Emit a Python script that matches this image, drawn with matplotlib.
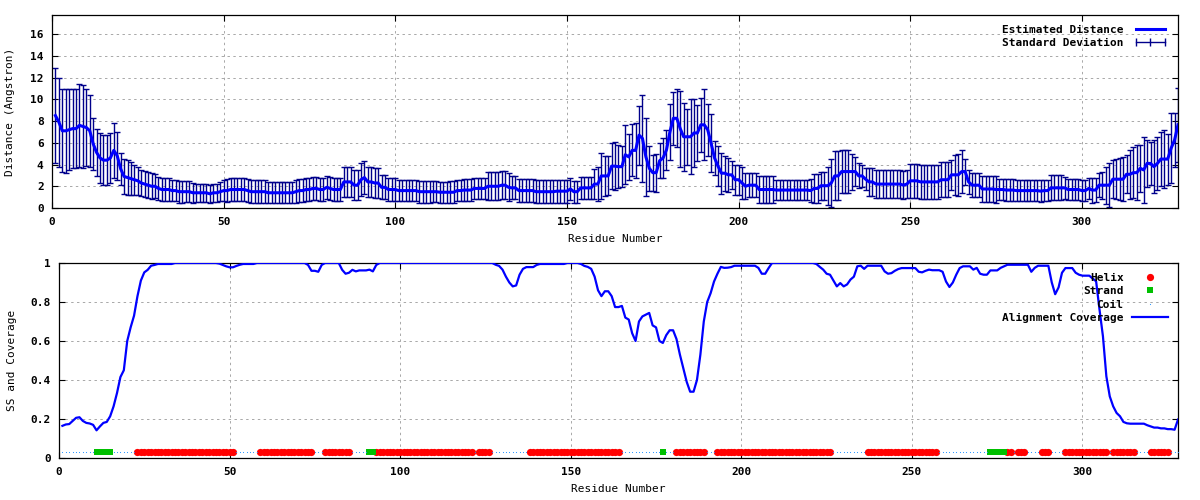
import numpy as np
import matplotlib
matplotlib.use("Agg")
import matplotlib.pyplot as plt
from matplotlib.lines import Line2D
from matplotlib.ticker import FormatStrFormatter, MultipleLocator

# ------------------------------------------------------------- dane
residues = np.arange(1, 329)

# estimated distance per residue (Angstrom)
distance = [
    8.5, 7.9, 7.1, 7.1, 7.2, 7.3, 7.3, 7.6, 7.5, 7.4,
    7.1, 5.9, 5.1, 4.6, 4.4, 4.4, 4.6, 5.3, 4.8, 3.6,
    2.9, 2.8, 2.7, 2.6, 2.5, 2.3, 2.2, 2.1, 2.0, 2.0,
    1.8, 1.7, 1.7, 1.7, 1.6, 1.6, 1.5, 1.5, 1.5, 1.5,
    1.4, 1.4, 1.4, 1.4, 1.4, 1.3, 1.4, 1.4, 1.5, 1.6,
    1.6, 1.7, 1.7, 1.7, 1.7, 1.7, 1.6, 1.5, 1.5, 1.5,
    1.5, 1.5, 1.4, 1.4, 1.4, 1.4, 1.4, 1.4, 1.4, 1.4,
    1.5, 1.6, 1.6, 1.7, 1.7, 1.8, 1.8, 1.7, 1.7, 1.9,
    1.8, 1.7, 1.7, 1.7, 2.4, 2.4, 2.4, 2.1, 2.1, 2.6,
    2.8, 2.4, 2.4, 2.3, 2.3, 1.9, 1.9, 1.7, 1.7, 1.7,
    1.6, 1.6, 1.6, 1.6, 1.6, 1.6, 1.5, 1.5, 1.5, 1.5,
    1.5, 1.5, 1.45, 1.45, 1.45, 1.45, 1.45, 1.6, 1.6, 1.65,
    1.65, 1.65, 1.8, 1.8, 1.8, 1.8, 2.0, 2.0, 2.0, 2.0,
    2.1, 2.1, 1.9, 1.85, 1.85, 1.6, 1.6, 1.6, 1.6, 1.6,
    1.5, 1.5, 1.5, 1.5, 1.5, 1.5, 1.55, 1.55, 1.55, 1.55,
    1.75, 1.5, 1.5, 1.85, 1.85, 1.85, 1.85, 2.2, 2.2, 2.95,
    2.95, 2.95, 3.85, 3.85, 3.8, 3.8, 4.9, 4.7, 5.3, 5.3,
    6.7, 6.4, 4.7, 3.65, 3.25, 3.25, 4.35, 4.6, 5.35, 7.0,
    8.25, 8.25, 7.3, 6.55, 6.55, 6.55, 6.9, 6.9, 7.65, 7.65,
    7.2, 5.95, 4.6, 3.85, 3.2, 3.2, 3.05, 3.05, 2.6, 2.6,
    2.3, 2.0, 2.1, 2.1, 2.1, 1.7, 1.7, 1.7, 1.7, 1.7,
    1.65, 1.65, 1.65, 1.65, 1.65, 1.65, 1.65, 1.65, 1.65, 1.65,
    1.6, 1.8, 1.8, 2.05, 2.05, 2.05, 2.3, 2.95, 2.95, 3.35,
    3.35, 3.35, 3.35, 3.35, 2.95, 2.95, 2.65, 2.4, 2.4, 2.2,
    2.2, 2.2, 2.2, 2.2, 2.2, 2.2, 2.2, 2.1, 2.2, 2.5,
    2.5, 2.5, 2.4, 2.4, 2.4, 2.4, 2.4, 2.4, 2.6, 2.6,
    2.6, 3.05, 3.05, 3.05, 3.35, 3.35, 2.4, 2.1, 2.1, 2.1,
    1.75, 1.75, 1.75, 1.75, 1.7, 1.7, 1.7, 1.65, 1.65, 1.65,
    1.6, 1.6, 1.6, 1.6, 1.6, 1.6, 1.6, 1.55, 1.6, 1.6,
    1.85, 1.85, 1.85, 1.85, 1.85, 1.7, 1.7, 1.7, 1.7, 1.6,
    1.6, 1.8, 1.65, 1.65, 2.1, 2.1, 2.1, 2.1, 2.65, 2.65,
    2.65, 2.65, 3.1, 3.1, 3.25, 3.25, 3.65, 3.5, 4.1, 4.1,
    3.8, 4.1, 4.5, 4.5, 4.5, 5.5, 6.25, 7.65,
]

# standard deviation per residue
std_dev = [
    4.4, 4.1, 3.8, 3.85, 3.75, 3.6, 3.6, 3.8, 3.8, 3.5,
    3.3, 2.4, 2.2, 2.3, 2.3, 2.3, 2.3, 2.5, 2.2, 1.5,
    1.6, 1.6, 1.5, 1.4, 1.3, 1.2, 1.2, 1.2, 1.2, 1.1,
    1.05, 1.05, 1.05, 1.05, 1.0, 1.0, 1.0, 1.0, 0.95, 0.95,
    0.9, 0.85, 0.85, 0.85, 0.85, 0.85, 0.85, 0.85, 0.9, 1.0,
    1.05, 1.05, 1.05, 1.05, 1.05, 1.05, 1.05, 1.05, 1.05, 1.05,
    1.05, 1.05, 0.95, 0.95, 0.95, 0.95, 0.95, 0.95, 0.95, 0.95,
    1.05, 1.05, 1.05, 1.05, 1.05, 1.05, 1.05, 1.05, 1.05, 1.05,
    1.05, 1.05, 1.05, 1.05, 1.4, 1.4, 1.4, 1.4, 1.4, 1.5,
    1.5, 1.4, 1.4, 1.4, 1.4, 1.1, 1.1, 1.1, 1.1, 1.1,
    1.0, 1.0, 1.0, 1.0, 1.0, 1.0, 1.0, 1.0, 1.0, 1.0,
    0.95, 0.95, 0.95, 0.95, 0.95, 1.0, 1.0, 1.0, 1.0, 1.0,
    1.0, 1.0, 1.0, 1.0, 1.0, 1.0, 1.3, 1.3, 1.3, 1.3,
    1.3, 1.3, 1.3, 1.05, 1.05, 1.05, 1.05, 1.05, 1.05, 1.05,
    1.05, 1.05, 1.05, 1.05, 1.05, 1.05, 1.05, 1.05, 1.05, 1.05,
    1.0, 1.0, 1.0, 1.0, 1.0, 1.0, 1.0, 1.35, 1.6, 2.1,
    1.85, 1.8, 2.1, 2.2, 2.0, 1.9, 2.7, 2.1, 2.4, 2.5,
    2.7, 4.0, 3.6, 2.05, 1.65, 1.75, 1.6, 1.8, 1.85, 2.6,
    2.45, 2.65, 3.5, 3.15, 2.55, 3.45, 3.1, 2.6, 2.5, 3.25,
    2.4, 2.65, 1.55, 1.85, 1.9, 1.6, 1.55, 1.3, 1.4, 1.4,
    1.5, 1.2, 1.1, 1.1, 1.1, 1.2, 1.2, 1.2, 1.2, 1.2,
    0.95, 0.95, 0.95, 0.95, 0.95, 0.95, 0.95, 0.95, 0.95, 0.95,
    1.05, 1.3, 1.3, 1.3, 1.3, 1.75, 2.2, 2.25, 2.25, 1.95,
    1.95, 1.95, 1.65, 1.35, 1.15, 1.0, 1.0, 1.3, 1.3, 1.3,
    1.3, 1.3, 1.3, 1.3, 1.3, 1.3, 1.3, 1.3, 1.3, 1.55,
    1.55, 1.55, 1.55, 1.55, 1.55, 1.55, 1.55, 1.55, 1.6, 1.6,
    1.6, 1.35, 1.85, 1.95, 1.95, 1.2, 1.1, 1.1, 1.1, 1.1,
    1.2, 1.2, 1.2, 1.2, 1.2, 1.0, 1.0, 1.0, 1.0, 1.0,
    1.0, 1.0, 1.0, 1.0, 1.0, 1.0, 1.0, 1.0, 1.0, 1.0,
    1.15, 1.15, 1.15, 1.15, 1.0, 1.0, 1.0, 1.0, 1.0, 1.0,
    1.0, 1.0, 1.15, 1.1, 1.1, 1.25, 1.7, 2.0, 1.75, 1.85,
    1.95, 2.05, 1.75, 2.25, 2.35, 2.55, 2.15, 3.05, 2.15, 2.0,
    2.45, 2.45, 2.5, 2.65, 2.35, 3.2, 2.5, 3.4,
]

# alignment coverage per residue
coverage = [
    0.165, 0.172, 0.174, 0.19, 0.206, 0.209, 0.19, 0.18, 0.177, 0.17,
    0.142, 0.162, 0.18, 0.185, 0.214, 0.265, 0.333, 0.415, 0.45, 0.6,
    0.67, 0.73, 0.83, 0.91, 0.952, 0.965, 0.986, 0.99, 0.995, 0.995,
    0.995, 0.995, 0.995, 1.0, 1.0, 1.0, 1.0, 1.0, 1.0, 1.0,
    1.0, 1.0, 1.0, 1.0, 1.0, 1.0, 0.997, 0.99, 0.983, 0.978,
    0.978, 0.985, 0.991, 0.995, 0.995, 0.995, 0.995, 1.0, 1.0, 1.0,
    1.0, 1.0, 1.0, 1.0, 1.0, 1.0, 1.0, 1.0, 1.0, 1.0,
    1.0, 1.0, 0.99, 0.96, 0.96, 0.955, 0.99, 1.0, 1.0, 1.0,
    1.0, 1.0, 0.965, 0.945, 0.95, 0.965, 0.957, 0.962, 0.962, 0.962,
    0.966, 0.957, 0.99, 1.0, 1.0, 1.0, 1.0, 1.0, 1.0, 1.0,
    1.0, 1.0, 1.0, 1.0, 1.0, 1.0, 1.0, 1.0, 1.0, 1.0,
    1.0, 1.0, 1.0, 1.0, 1.0, 1.0, 1.0, 1.0, 1.0, 1.0,
    1.0, 1.0, 1.0, 1.0, 1.0, 1.0, 1.0, 0.991, 0.985, 0.966,
    0.93, 0.9, 0.88, 0.885, 0.94, 0.97, 0.979, 0.979, 0.979, 0.99,
    0.995, 0.995, 0.995, 0.995, 0.995, 0.995, 0.995, 0.995, 1.0, 1.0,
    1.0, 1.0, 0.995, 0.985, 0.98, 0.97, 0.93, 0.86, 0.83, 0.855,
    0.855, 0.83, 0.774, 0.774, 0.78, 0.72, 0.71, 0.64, 0.6, 0.7,
    0.726, 0.735, 0.744, 0.68, 0.67, 0.6, 0.59, 0.63, 0.655, 0.655,
    0.61, 0.53, 0.46, 0.39, 0.34, 0.34, 0.4, 0.53, 0.7, 0.8,
    0.845, 0.905, 0.945, 0.98, 0.975, 0.976, 0.979, 0.986, 0.986, 0.986,
    0.986, 0.986, 0.986, 0.986, 0.975, 0.945, 0.945, 0.974, 1.0, 1.0,
    1.0, 1.0, 1.0, 1.0, 1.0, 1.0, 1.0, 1.0, 1.0, 1.0,
    1.0, 0.995, 0.98, 0.966, 0.945, 0.94, 0.91, 0.88, 0.897, 0.88,
    0.89, 0.915, 0.93, 0.983, 0.986, 0.97, 0.986, 0.986, 0.986, 0.986,
    0.986, 0.957, 0.945, 0.948, 0.96, 0.969, 0.974, 0.974, 0.974, 0.974,
    0.974, 0.955, 0.952, 0.96, 0.966, 0.963, 0.963, 0.963, 0.955, 0.905,
    0.877, 0.9, 0.94, 0.974, 0.983, 0.983, 0.983, 0.966, 0.975, 0.945,
    0.94, 0.94, 0.962, 0.962, 0.962, 0.975, 0.983, 0.991, 0.991, 0.991,
    0.991, 0.991, 0.991, 0.991, 0.955, 0.975, 0.986, 0.986, 0.986, 0.986,
    0.9, 0.84, 0.875, 0.95, 0.974, 0.974, 0.974, 0.95, 0.94, 0.935,
    0.935, 0.935, 0.92, 0.906, 0.76, 0.624, 0.419, 0.316, 0.265, 0.231,
    0.214, 0.185, 0.178, 0.176, 0.176, 0.176, 0.176, 0.176, 0.168, 0.162,
    0.156, 0.156, 0.152, 0.152, 0.148, 0.148, 0.145, 0.197,
]

# secondary structure segments (first residue, last residue, type)
ss_segments = [
    (1, 10, 'C'), (11, 15, 'E'), (16, 22, 'C'), (23, 51, 'H'), (52, 58, 'C'),
    (59, 74, 'H'), (75, 77, 'C'), (78, 85, 'H'), (86, 90, 'C'), (91, 92, 'E'),
    (93, 121, 'H'), (122, 122, 'C'), (123, 126, 'H'), (127, 137, 'C'),
    (138, 164, 'H'), (165, 176, 'C'), (177, 177, 'E'), (178, 180, 'C'),
    (181, 189, 'H'), (190, 192, 'C'), (193, 226, 'H'), (227, 236, 'C'),
    (237, 257, 'H'), (258, 272, 'C'), (273, 277, 'E'), (278, 279, 'H'),
    (280, 280, 'C'), (281, 283, 'H'), (284, 287, 'C'), (288, 290, 'H'),
    (291, 294, 'C'), (295, 307, 'H'), (308, 308, 'C'), (309, 315, 'H'),
    (316, 319, 'C'), (320, 325, 'H'), (326, 328, 'C'),
]

ss = []
for start, end, kind in ss_segments:
    ss += [kind] * (end - start + 1)
ss = np.array(ss)

SS_LEVEL = 0.03

# ------------------------------------------------------------- styl (gnuplot-like)
plt.rcParams['font.family'] = ['DejaVu Sans Mono']
plt.rcParams['font.weight'] = 'bold'
plt.rcParams['font.size'] = 8

BLUE = '#0000ff'
NAVY = '#00008b'


def gnuplot_style(ax):
    ax.grid(True, color='#a8a8a8', linestyle=(0, (2.5, 3.5)), linewidth=0.7)
    ax.set_axisbelow(True)
    ax.tick_params(direction='in', length=4.5, width=0.8, top=True, right=True, pad=6)
    ax.tick_params(axis='x', pad=6.5)
    for sp in ax.spines.values():
        sp.set_linewidth(0.9)
    ax.xaxis.set_major_locator(MultipleLocator(50))
    ax.set_xlim(0, 328)


fig = plt.figure(figsize=(12, 5), dpi=100)
ax1 = fig.add_axes([52 / 1200, 292 / 500, 1126 / 1200, 193 / 500])
ax2 = fig.add_axes([59 / 1200, 42 / 500, 1119 / 1200, 195 / 500])

# ------------------------------------------------------------- gorny wykres
gnuplot_style(ax1)
ax1.errorbar(residues, distance, yerr=std_dev, fmt='none', ecolor=NAVY,
             elinewidth=1.0, capsize=2.2, capthick=1.0, zorder=2)
ax1.plot(residues, distance, color=BLUE, lw=2.2, zorder=3)
ax1.set_ylim(0, 17.75)
ax1.yaxis.set_major_locator(MultipleLocator(2))
ax1.set_xlabel('Residue Number')
ax1.set_ylabel('Distance (Angstron)')
ax1.xaxis.set_label_coords(0.5, -0.135)
ax1.yaxis.set_label_coords(-0.0325, 0.5)

h1 = [Line2D([], [], color=BLUE, lw=2.2),
      Line2D([], [], color=NAVY, lw=1.0, marker='|', ms=6, mew=1.0)]
ax1.legend(h1, ['Estimated Distance', 'Standard Deviation'], loc='upper right',
           frameon=False, markerfirst=False, numpoints=3, handlelength=3.2,
           handletextpad=0.8, labelspacing=0.25, borderaxespad=0.7, borderpad=0.2)

# ------------------------------------------------------------- dolny wykres
gnuplot_style(ax2)
helix = residues[ss == 'H']
strand = residues[ss == 'E']
coil = residues[ss == 'C']
ax2.plot(helix, np.full(len(helix), SS_LEVEL), 'o', color='#ff0000', ms=5.2, mew=0,
         label='Helix', zorder=3)
ax2.plot(strand, np.full(len(strand), SS_LEVEL), 's', color='#00c000', ms=4.5, mew=0,
         label='Strand', zorder=3)
ax2.plot(coil, np.full(len(coil), SS_LEVEL), '.', color='#1e90ff', ms=1.6, mew=0,
         label='Coil', zorder=3)
ax2.plot(residues, coverage, color=BLUE, lw=1.6, label='Alignment Coverage', zorder=4)
ax2.set_ylim(0, 1)
ax2.yaxis.set_major_locator(MultipleLocator(0.2))
ax2.yaxis.set_major_formatter(FormatStrFormatter('%g'))
ax2.set_xlabel('Residue Number')
ax2.set_ylabel('SS and Coverage')
ax2.xaxis.set_label_coords(0.5, -0.133)
ax2.yaxis.set_label_coords(-0.0375, 0.5)
ax2.legend(loc='upper right', frameon=False, markerfirst=False, numpoints=1,
           handlelength=3.2, handletextpad=0.8, labelspacing=0.3,
           borderaxespad=0.7, borderpad=0.2)

fig.savefig('out.png', dpi=100)
